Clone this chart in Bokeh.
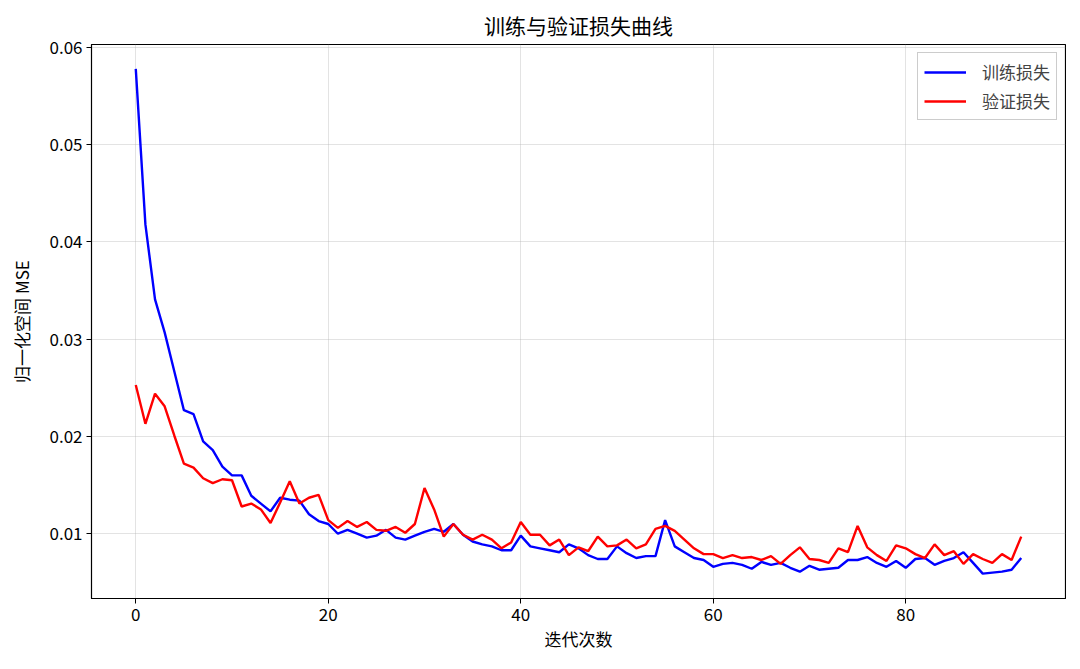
from bokeh.plotting import figure
from bokeh.models import Range1d, FixedTicker, Legend, LegendItem, PrintfTickFormatter
from bokeh.embed import file_html
from bokeh.resources import INLINE

title = "训练与验证损失曲线"
x_label = "迭代次数"
y_label = "归一化空间 MSE"
train_name = "训练损失"
val_name = "验证损失"

train_loss = [
    0.0578, 0.0418, 0.0341, 0.0307, 0.0267, 0.0227, 0.0223, 0.0195, 0.0186, 0.0169,
    0.0160, 0.0160, 0.0139, 0.0131, 0.0123, 0.0137, 0.0135, 0.0134, 0.0120, 0.0113,
    0.0110, 0.0100, 0.0104, 0.0100, 0.0096, 0.0098, 0.0104, 0.0096, 0.0094, 0.0098,
    0.0102, 0.0105, 0.0102, 0.0110, 0.0099, 0.0092, 0.0089, 0.0087, 0.0083, 0.0083,
    0.0098, 0.0087, 0.0085, 0.0083, 0.0081, 0.0089, 0.0085, 0.0078, 0.0074, 0.0074,
    0.0087, 0.0080, 0.0075, 0.0077, 0.0077, 0.0114, 0.0087, 0.0081, 0.0075, 0.0073,
    0.0066, 0.0069, 0.0070, 0.0068, 0.0064, 0.0071, 0.0068, 0.0070, 0.0065, 0.0061,
    0.0067, 0.0063, 0.0064, 0.0065, 0.0073, 0.0073, 0.0076, 0.0070, 0.0066, 0.0072,
    0.0065, 0.0074, 0.0075, 0.0068, 0.0072, 0.0075, 0.0081, 0.0070, 0.0059, 0.0060,
    0.0061, 0.0063, 0.0075,
]

val_loss = [
    0.0253, 0.0213, 0.0244, 0.0231, 0.0201, 0.0172, 0.0168, 0.0157, 0.0152, 0.0156,
    0.0155, 0.0128, 0.0131, 0.0125, 0.0111, 0.0132, 0.0154, 0.0131, 0.0137, 0.0140,
    0.0114, 0.0106, 0.0113, 0.0107, 0.0112, 0.0104, 0.0103, 0.0107, 0.0101, 0.0110,
    0.0147, 0.0125, 0.0097, 0.0110, 0.0099, 0.0094, 0.0099, 0.0094, 0.0085, 0.0091,
    0.0112, 0.0099, 0.0099, 0.0088, 0.0094, 0.0078, 0.0086, 0.0082, 0.0097, 0.0087,
    0.0088, 0.0094, 0.0085, 0.0089, 0.0105, 0.0108, 0.0103, 0.0094, 0.0085, 0.0079,
    0.0079, 0.0075, 0.0078, 0.0075, 0.0076, 0.0073, 0.0077, 0.0069, 0.0078, 0.0086,
    0.0074, 0.0073, 0.0070, 0.0085, 0.0081, 0.0108, 0.0086, 0.0078, 0.0072, 0.0088,
    0.0085, 0.0079, 0.0075, 0.0089, 0.0078, 0.0082, 0.0069, 0.0079, 0.0074, 0.0070,
    0.0079, 0.0073, 0.0097,
]

epochs = list(range(len(train_loss)))
x_ticks = [0, 20, 40, 60, 80]
y_ticks = [0.01, 0.02, 0.03, 0.04, 0.05, 0.06]

FONT = "Noto Sans CJK SC"

p = figure(
    width=1066, height=653,
    output_backend="svg", toolbar_location=None,
    x_range=Range1d(-4.6, 96.6), y_range=Range1d(0.00334, 0.0603),
    min_border_left=91, min_border_right=1, min_border_top=44, min_border_bottom=53,
    title=title,
)

p.title.text_font = FONT
p.title.text_font_size = "21px"
p.title.text_font_style = "normal"
p.title.align = "center"
p.title.text_color = "#000000"
p.title.offset = 0

r1 = p.line(epochs, train_loss, line_color="#0000ff", line_width=2.4)
r2 = p.line(epochs, val_loss, line_color="#ff0000", line_width=2.4)

p.xaxis.ticker = FixedTicker(ticks=x_ticks)
p.yaxis.ticker = FixedTicker(ticks=y_ticks)
p.yaxis.formatter = PrintfTickFormatter(format="%.2f")

for ax in (p.xaxis[0], p.yaxis[0]):
    ax.major_label_text_font = FONT
    ax.major_label_text_font_size = "17px"
    ax.major_label_text_color = "#000000"
    ax.axis_label_text_font = FONT
    ax.axis_label_text_font_size = "17px"
    ax.axis_label_text_font_style = "normal"
    ax.axis_label_text_color = "#000000"
    ax.minor_tick_line_color = None
    ax.major_tick_out = 5
    ax.major_tick_in = 0
    ax.major_tick_line_color = "#000000"
    ax.axis_line_color = "#000000"
    ax.major_label_standoff = 4

p.xaxis.axis_label = x_label
p.yaxis.axis_label = y_label
p.xaxis.axis_label_standoff = 2
p.yaxis.axis_label_standoff = 12

p.xgrid.grid_line_color = "#b0b0b0"
p.ygrid.grid_line_color = "#b0b0b0"
p.xgrid.grid_line_alpha = 0.35
p.ygrid.grid_line_alpha = 0.35

p.outline_line_color = "#000000"
p.outline_line_width = 1.2
p.outline_line_alpha = 1.0

legend = Legend(
    items=[LegendItem(label=train_name, renderers=[r1]), LegendItem(label=val_name, renderers=[r2])],
    location="top_right",
)
legend.label_text_font = FONT
legend.label_text_font_size = "17px"
legend.label_height = 22
legend.glyph_height = 22
legend.border_line_color = "#cccccc"
legend.border_line_alpha = 1.0
legend.background_fill_alpha = 0.85
legend.margin = 8
legend.padding = 6
legend.spacing = 4
legend.glyph_width = 42
legend.label_standoff = 16
p.add_layout(legend)

open("out.html", "w").write(file_html(p, INLINE))
